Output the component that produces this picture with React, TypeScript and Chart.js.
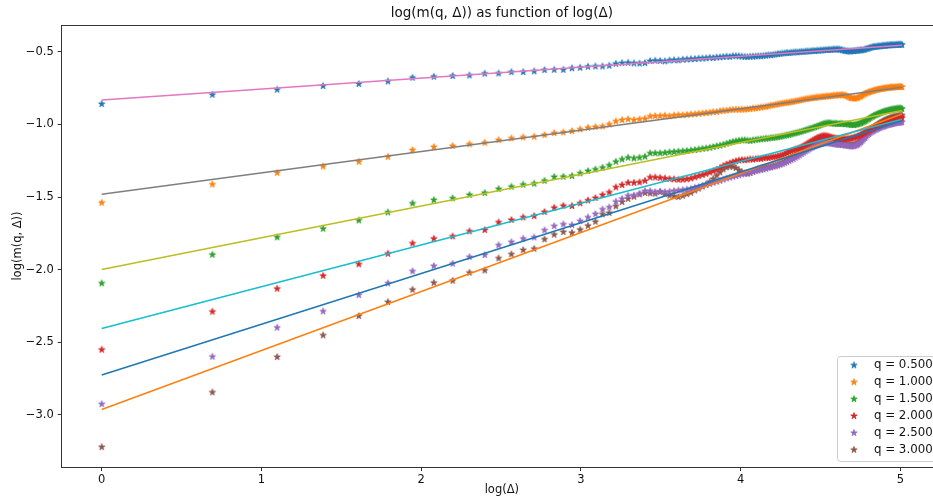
import React, { useEffect, useRef } from "react";
import { Chart, registerables } from "chart.js";

Chart.register(...registerables);

// ---------- data ----------
const DELTA_COUNT = 150; // Δ = 1 .. 150, plotted at x = log(Δ)

const SERIES_LABELS = ["q = 0.500", "q = 1.000", "q = 1.500", "q = 2.000", "q = 2.500", "q = 3.000"];

const Q050 = [
  -0.860, -0.796, -0.761, -0.736, -0.722, -0.704, -0.679, -0.672, -0.667, -0.663,
  -0.651, -0.649, -0.640, -0.640, -0.635, -0.626, -0.624, -0.624, -0.614, -0.610,
  -0.603, -0.601, -0.601, -0.596, -0.583, -0.578, -0.576, -0.580, -0.581, -0.578,
  -0.564, -0.562,
  -0.563, -0.566, -0.560, -0.558, -0.559, -0.554, -0.553, -0.551, -0.550, -0.547,
  -0.546, -0.545, -0.541, -0.543, -0.539, -0.538, -0.536, -0.533, -0.535, -0.530,
  -0.530, -0.531, -0.533, -0.535, -0.536, -0.534, -0.533, -0.532, -0.530, -0.531,
  -0.528, -0.527, -0.523, -0.524, -0.521, -0.519, -0.516, -0.514, -0.512, -0.510,
  -0.508, -0.509, -0.506, -0.505, -0.503, -0.504, -0.502, -0.500, -0.501, -0.498,
  -0.497, -0.498, -0.495, -0.494, -0.495, -0.492, -0.493, -0.490, -0.491, -0.489,
  -0.488, -0.488, -0.486, -0.487, -0.485, -0.484, -0.485, -0.483, -0.484, -0.486,
  -0.489, -0.492, -0.494, -0.497, -0.496, -0.498, -0.497, -0.495, -0.496, -0.494,
  -0.493, -0.492, -0.490, -0.489, -0.490, -0.487, -0.485, -0.481, -0.479, -0.476,
  -0.473, -0.470, -0.468, -0.466, -0.465, -0.466, -0.463, -0.462, -0.463, -0.460,
  -0.459, -0.458, -0.460, -0.456, -0.455, -0.457, -0.454, -0.455, -0.453, -0.455,
  -0.452, -0.454, -0.451, -0.453, -0.450, -0.452, -0.451, -0.452,
];

const Q100 = [
  -1.539, -1.413, -1.333, -1.289, -1.257, -1.223, -1.177, -1.156, -1.149, -1.137,
  -1.126, -1.108, -1.096, -1.089, -1.085, -1.073, -1.060, -1.055, -1.046, -1.034,
  -1.023, -1.018, -1.014, -1.000, -0.979, -0.970, -0.965, -0.970, -0.965, -0.961,
  -0.945, -0.943,
  -0.943, -0.940, -0.944, -0.938, -0.936, -0.937, -0.934, -0.931, -0.930, -0.926,
  -0.924, -0.921, -0.919, -0.915, -0.914, -0.909, -0.906, -0.905, -0.901, -0.899,
  -0.898, -0.899, -0.897, -0.898, -0.895, -0.894, -0.890, -0.889, -0.886, -0.883,
  -0.881, -0.878, -0.876, -0.870, -0.868, -0.864, -0.861, -0.858, -0.855, -0.853,
  -0.850, -0.849, -0.845, -0.844, -0.840, -0.838, -0.835, -0.831, -0.829, -0.826,
  -0.824, -0.822, -0.820, -0.818, -0.817, -0.814, -0.813, -0.812, -0.810, -0.809,
  -0.808, -0.806, -0.807, -0.804, -0.803, -0.801, -0.802, -0.799, -0.800, -0.798,
  -0.797, -0.799, -0.800, -0.805, -0.810, -0.815, -0.818, -0.821, -0.820, -0.822,
  -0.819, -0.816, -0.812, -0.806, -0.801, -0.795, -0.790, -0.785, -0.781, -0.778,
  -0.775, -0.772, -0.770, -0.766, -0.764, -0.762, -0.760, -0.758, -0.757, -0.755,
  -0.754, -0.752, -0.751, -0.750, -0.748, -0.749, -0.746, -0.745, -0.746, -0.744,
  -0.745, -0.743, -0.744, -0.742, -0.743, -0.741, -0.742, -0.743,
];

const Q150 = [
  -2.094, -1.897, -1.777, -1.718, -1.661, -1.606, -1.544, -1.521, -1.509, -1.486,
  -1.472, -1.445, -1.429, -1.415, -1.408, -1.388, -1.362, -1.360, -1.355, -1.337,
  -1.321, -1.310, -1.298, -1.282, -1.257, -1.241, -1.229, -1.234, -1.229, -1.222,
  -1.199, -1.199,
  -1.199, -1.196, -1.192, -1.190, -1.187, -1.185, -1.183, -1.179, -1.176, -1.172,
  -1.168, -1.165, -1.160, -1.156, -1.150, -1.146, -1.140, -1.133, -1.126, -1.120,
  -1.116, -1.112, -1.110, -1.108, -1.111, -1.113, -1.110, -1.106, -1.104, -1.102,
  -1.100, -1.098, -1.097, -1.094, -1.092, -1.090, -1.088, -1.085, -1.082, -1.078,
  -1.075, -1.072, -1.068, -1.064, -1.061, -1.057, -1.053, -1.049, -1.045, -1.040,
  -1.036, -1.032, -1.028, -1.023, -1.019, -1.014, -1.010, -1.005, -1.000, -0.996,
  -0.993, -0.991, -0.990, -0.992, -0.994, -0.995, -0.993, -0.996, -0.997, -0.995,
  -0.996, -0.998, -0.999, -0.997, -0.999, -1.001, -1.003, -1.004, -1.005, -1.002,
  -1.000, -0.998, -0.995, -0.991, -0.987, -0.983, -0.978, -0.973, -0.967, -0.961,
  -0.956, -0.950, -0.945, -0.940, -0.936, -0.932, -0.928, -0.925, -0.921, -0.918,
  -0.915, -0.912, -0.910, -0.907, -0.905, -0.903, -0.901, -0.899, -0.898, -0.896,
  -0.895, -0.894, -0.892, -0.891, -0.892, -0.890, -0.891, -0.893,
];

const Q200 = [
  -2.551, -2.289, -2.131, -2.042, -1.963, -1.890, -1.819, -1.787, -1.771, -1.736,
  -1.727, -1.674, -1.658, -1.640, -1.631, -1.603, -1.574, -1.560, -1.562, -1.543,
  -1.523, -1.507, -1.486, -1.468, -1.433, -1.417, -1.402, -1.402, -1.399, -1.388,
  -1.365, -1.365,
  -1.368, -1.372, -1.376, -1.378, -1.381, -1.380, -1.377, -1.372, -1.364, -1.356,
  -1.348, -1.340, -1.331, -1.322, -1.312, -1.300, -1.287, -1.276, -1.268, -1.260,
  -1.253, -1.248, -1.245, -1.246, -1.243, -1.240, -1.242, -1.238, -1.236, -1.237,
  -1.233, -1.230, -1.231, -1.227, -1.224, -1.222, -1.219, -1.215, -1.210, -1.204,
  -1.197, -1.190, -1.184, -1.178, -1.172, -1.167, -1.162, -1.156, -1.149, -1.141,
  -1.133, -1.125, -1.117, -1.109, -1.102, -1.095, -1.089, -1.084, -1.080, -1.078,
  -1.079, -1.081, -1.084, -1.088, -1.091, -1.094, -1.096, -1.098, -1.099, -1.100,
  -1.101, -1.100, -1.102, -1.101, -1.099, -1.098, -1.096, -1.094, -1.091, -1.088,
  -1.085, -1.081, -1.077, -1.072, -1.067, -1.062, -1.057, -1.051, -1.046, -1.041,
  -1.036, -1.031, -1.027, -1.022, -1.018, -1.014, -1.010, -1.006, -1.002, -0.998,
  -0.994, -0.990, -0.987, -0.983, -0.980, -0.977, -0.974, -0.971, -0.968, -0.966,
  -0.964, -0.962, -0.960, -0.958, -0.957, -0.956, -0.955, -0.954,
];

const Q250 = [
  -2.925, -2.599, -2.399, -2.287, -2.175, -2.094, -2.011, -1.975, -1.959, -1.913,
  -1.899, -1.832, -1.810, -1.787, -1.778, -1.729, -1.700, -1.688, -1.693, -1.665,
  -1.640, -1.617, -1.585, -1.571, -1.532, -1.512, -1.491, -1.489, -1.477, -1.459,
  -1.459, -1.466,
  -1.462, -1.466, -1.463, -1.458, -1.455, -1.452, -1.448, -1.443, -1.436, -1.430,
  -1.423, -1.416, -1.410, -1.402, -1.395, -1.388, -1.380, -1.372, -1.366, -1.360,
  -1.355, -1.350, -1.344, -1.340, -1.335, -1.331, -1.326, -1.322, -1.318, -1.314,
  -1.310, -1.305, -1.300, -1.296, -1.292, -1.288, -1.283, -1.278, -1.272, -1.266,
  -1.259, -1.252, -1.245, -1.238, -1.230, -1.222, -1.214, -1.205, -1.196, -1.187,
  -1.179, -1.171, -1.163, -1.156, -1.150, -1.145, -1.140, -1.136, -1.133, -1.131,
  -1.129, -1.128, -1.130, -1.132, -1.134, -1.136, -1.138, -1.139, -1.141, -1.140,
  -1.142, -1.143, -1.145, -1.146, -1.148, -1.150, -1.151, -1.152, -1.150, -1.147,
  -1.143, -1.138, -1.131, -1.122, -1.113, -1.103, -1.093, -1.083, -1.074, -1.066,
  -1.059, -1.053, -1.048, -1.043, -1.038, -1.034, -1.030, -1.026, -1.022, -1.019,
  -1.016, -1.013, -1.010, -1.008, -1.005, -1.003, -1.001, -0.999, -0.997, -0.995,
  -0.993, -0.992, -0.990, -0.989, -0.988, -0.987, -0.986, -0.985,
];

const Q300 = [
  -3.221, -2.844, -2.601, -2.452, -2.319, -2.223, -2.138, -2.090, -2.076, -2.021,
  -2.005, -1.922, -1.894, -1.865, -1.856, -1.791, -1.759, -1.741, -1.746, -1.725,
  -1.698, -1.670, -1.619, -1.610, -1.564, -1.534, -1.512, -1.498, -1.482, -1.472,
  -1.475, -1.477,
  -1.465, -1.478, -1.490, -1.495, -1.500, -1.492, -1.480, -1.470, -1.455, -1.442,
  -1.428, -1.415, -1.395, -1.375, -1.352, -1.330, -1.310, -1.296, -1.290, -1.292,
  -1.300, -1.315, -1.328, -1.337, -1.340, -1.335, -1.325, -1.315, -1.305, -1.300,
  -1.298, -1.296, -1.293, -1.290, -1.285, -1.281, -1.276, -1.270, -1.262, -1.255,
  -1.247, -1.238, -1.229, -1.220, -1.211, -1.202, -1.193, -1.184, -1.175, -1.166,
  -1.157, -1.149, -1.141, -1.134, -1.127, -1.121, -1.116, -1.112, -1.110, -1.109,
  -1.110, -1.112, -1.115, -1.118, -1.121, -1.124, -1.127, -1.130, -1.132, -1.134,
  -1.136, -1.137, -1.139, -1.140, -1.141, -1.142, -1.141, -1.140, -1.139, -1.137,
  -1.133, -1.127, -1.119, -1.110, -1.099, -1.088, -1.077, -1.066, -1.056, -1.047,
  -1.039, -1.031, -1.024, -1.017, -1.011, -1.005, -0.999, -0.994, -0.989, -0.984,
  -0.979, -0.975, -0.971, -0.967, -0.963, -0.960, -0.957, -0.954, -0.951, -0.949,
  -0.947, -0.945, -0.944, -0.942, -0.941, -0.940, -0.939, -0.938,
];

const SERIES = [Q050, Q100, Q150, Q200, Q250, Q300];

// fitted straight lines: value at log(Δ)=0 and at log(Δ)=log(150)
const FIT_START = [-0.832, -1.481, -1.998, -2.405, -2.725, -2.962];
const FIT_END = [-0.455, -0.745, -0.905, -0.965, -0.975, -0.929];

const X_TICKS = [0, 1, 2, 3, 4, 5];
const Y_TICKS = [-3.0, -2.5, -2.0, -1.5, -1.0, -0.5];

const TITLE = "log(m(q, Δ)) as function of log(Δ)";
const X_LABEL = "log(Δ)";
const Y_LABEL = "log(m(q, Δ))";

// ---------- styles ----------
const POINT_COLORS = ["#1f77b4", "#ff7f0e", "#2ca02c", "#d62728", "#9467bd", "#8c564b"];
const LINE_COLORS = ["#e377c2", "#7f7f7f", "#bcbd22", "#17becf", "#1f77b4", "#ff7f0e"];
const FONT = '"DejaVu Sans", sans-serif';
const CANVAS_W = 960;
const CANVAS_H = 502;

function makeStar(color: string, r: number): HTMLCanvasElement {
  const size = Math.ceil(r * 2 + 3);
  const c = document.createElement("canvas");
  c.width = size;
  c.height = size;
  const ctx = c.getContext("2d")!;
  const cx = size / 2;
  const cy = size / 2;
  const ri = r * 0.382;
  ctx.beginPath();
  for (let i = 0; i < 10; i++) {
    const ang = -Math.PI / 2 + (i * Math.PI) / 5;
    const rr = i % 2 === 0 ? r : ri;
    const px = cx + rr * Math.cos(ang);
    const py = cy + rr * Math.sin(ang);
    if (i === 0) ctx.moveTo(px, py);
    else ctx.lineTo(px, py);
  }
  ctx.closePath();
  ctx.fillStyle = color;
  ctx.fill();
  ctx.strokeStyle = color;
  ctx.lineWidth = 0.8;
  ctx.lineJoin = "round";
  ctx.stroke();
  return c;
}

export default function App() {
  const canvasRef = useRef<HTMLCanvasElement | null>(null);

  useEffect(() => {
    const canvas = canvasRef.current;
    if (!canvas) return;
    document.body.style.overflow = "hidden";

    const stars = POINT_COLORS.map((c) => makeStar(c, 3.4));

    const pointSets = SERIES.map((ys, i) => ({
      type: "scatter" as const,
      label: SERIES_LABELS[i],
      data: ys.map((y, k) => ({ x: Math.log(k + 1), y })),
      pointStyle: stars[i],
      pointRadius: 3.5,
      showLine: false,
      order: 1,
    }));

    const lineSets = FIT_START.map((a, i) => ({
      type: "line" as const,
      label: "fit " + SERIES_LABELS[i],
      data: [
        { x: 0, y: a },
        { x: Math.log(DELTA_COUNT), y: FIT_END[i] },
      ],
      borderColor: LINE_COLORS[i],
      borderWidth: 1.5,
      pointRadius: 0,
      fill: false,
      tension: 0,
      order: 0,
    }));

    const decor = {
      id: "decor",
      afterDraw(chart: any) {
        const { ctx, chartArea: a } = chart;
        ctx.save();
        // top and right spines
        ctx.strokeStyle = "#333";
        ctx.lineWidth = 1;
        ctx.beginPath();
        ctx.moveTo(a.left, Math.round(a.top) + 0.5);
        ctx.lineTo(a.right, Math.round(a.top) + 0.5);
        ctx.moveTo(Math.round(a.right) - 0.5, a.top);
        ctx.lineTo(Math.round(a.right) - 0.5, a.bottom);
        ctx.stroke();

        const cx = (a.left + a.right) / 2;
        ctx.fillStyle = "#111";
        ctx.textAlign = "center";
        ctx.textBaseline = "middle";
        ctx.font = "13.5px " + FONT;
        ctx.fillText(TITLE, cx, 13);
        ctx.font = "11.5px " + FONT;
        ctx.fillText(X_LABEL, cx, 490);
        ctx.save();
        ctx.translate(18, (a.top + a.bottom) / 2);
        ctx.rotate(-Math.PI / 2);
        ctx.fillText(Y_LABEL, 0, 0);
        ctx.restore();

        // legend
        const lx = 837.5;
        const ly = 356.5;
        const lw = 99;
        const lh = 105;
        const r = 3;
        ctx.beginPath();
        ctx.moveTo(lx + r, ly);
        ctx.lineTo(lx + lw - r, ly);
        ctx.quadraticCurveTo(lx + lw, ly, lx + lw, ly + r);
        ctx.lineTo(lx + lw, ly + lh - r);
        ctx.quadraticCurveTo(lx + lw, ly + lh, lx + lw - r, ly + lh);
        ctx.lineTo(lx + r, ly + lh);
        ctx.quadraticCurveTo(lx, ly + lh, lx, ly + lh - r);
        ctx.lineTo(lx, ly + r);
        ctx.quadraticCurveTo(lx, ly, lx + r, ly);
        ctx.closePath();
        ctx.fillStyle = "rgba(255,255,255,0.8)";
        ctx.fill();
        ctx.strokeStyle = "#cccccc";
        ctx.lineWidth = 1;
        ctx.stroke();

        ctx.textAlign = "left";
        ctx.textBaseline = "middle";
        ctx.font = "11.8px " + FONT;
        ctx.fillStyle = "#111";
        SERIES_LABELS.forEach((lab, i) => {
          const ry = 365.3 + i * 16.9;
          const s = stars[i];
          ctx.drawImage(s, 854 - s.width / 2, ry - s.height / 2);
          ctx.fillText(lab, 874, ry);
        });
        ctx.restore();
      },
    };

    const axisCommon = {
      grid: {
        display: true,
        drawOnChartArea: false,
        drawTicks: true,
        tickLength: 4,
        color: "#333",
        lineWidth: 1,
      },
      border: { display: true, color: "#333", width: 1 },
    };

    const chart = new Chart(canvas, {
      type: "scatter",
      data: { datasets: [...lineSets, ...pointSets] as any },
      options: {
        responsive: false,
        animation: false,
        events: [],
        layout: { padding: { left: 0, right: 18, top: 25, bottom: 0 } },
        plugins: {
          legend: { display: false },
          tooltip: { enabled: false },
          title: { display: false },
        },
        scales: {
          x: {
            type: "linear",
            min: -0.2505,
            max: 5.2611,
            ...axisCommon,
            afterFit: (scale: any) => {
              scale.height = 35;
            },
            afterBuildTicks: (scale: any) => {
              scale.ticks = X_TICKS.map((v) => ({ value: v }));
            },
            ticks: {
              padding: 2,
              color: "#111",
              font: { family: FONT, size: 11.5 },
              maxRotation: 0,
              callback: (v: any) => String(v),
            },
          },
          y: {
            type: "linear",
            min: -3.358,
            max: -0.316,
            ...axisCommon,
            afterFit: (scale: any) => {
              scale.width = 61.7;
            },
            afterBuildTicks: (scale: any) => {
              scale.ticks = Y_TICKS.map((v) => ({ value: v }));
            },
            ticks: {
              padding: 4,
              color: "#111",
              font: { family: FONT, size: 11.5 },
              callback: (v: any) => Number(v).toFixed(1).replace("-", "\u2212"),
            },
          },
        },
      },
      plugins: [decor],
    });

    return () => {
      chart.destroy();
    };
  }, []);

  return (
    <div
      style={{
        position: "fixed",
        left: 0,
        top: 0,
        width: CANVAS_W,
        height: CANVAS_H,
        background: "#fff",
      }}
    >
      <canvas
        ref={canvasRef}
        width={CANVAS_W}
        height={CANVAS_H}
        style={{ width: CANVAS_W, height: CANVAS_H, display: "block" }}
      />
    </div>
  );
}
